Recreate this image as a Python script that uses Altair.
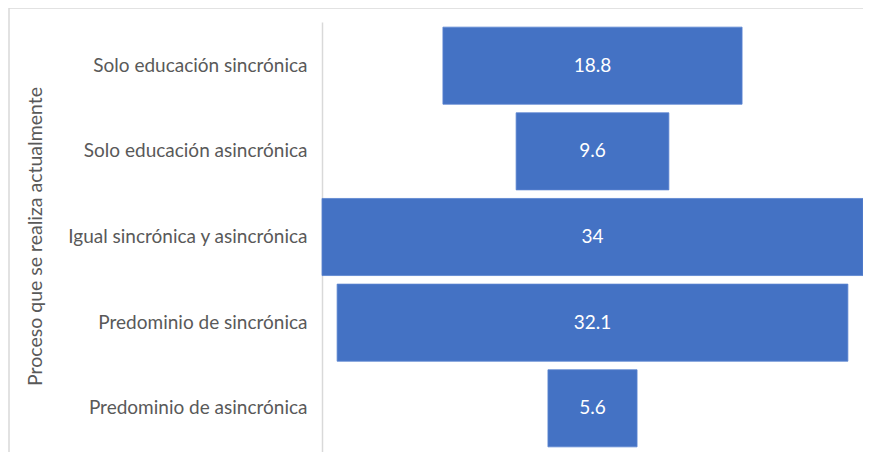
import altair as alt
import pandas as pd

categories = [
    "Solo educación sincrónica",
    "Solo educación asincrónica",
    "Igual sincrónica y asincrónica",
    "Predominio de sincrónica",
    "Predominio de asincrónica",
]
values = [18.8, 9.6, 34, 32.1, 5.6]

df = pd.DataFrame({"cat": categories, "val": values})
df["lo"] = -df["val"] / 2
df["hi"] = df["val"] / 2
df["mid"] = 0.0
df["label"] = [f"{v:g}" for v in values]

FONT = "Lato"

y_enc = alt.Y(
    "cat:N",
    sort=categories,
    scale=alt.Scale(paddingInner=0.1, paddingOuter=0.06),
    axis=alt.Axis(
        title="Proceso que se realiza actualmente",
        labelFont=FONT,
        labelFontSize=19,
        labelColor="#595959",
        labelPadding=15,
        labelLimit=0,
        ticks=False,
        domainColor="#d9d9d9",
        domainWidth=1.5,
        titleFont=FONT,
        titleFontSize=19.5,
        titleFontWeight="normal",
        titleColor="#595959",
        titleAngle=270,
        titleX=-287,
        titleY=214,
        titleAlign="center",
        titleBaseline="middle",
    ),
)

x_scale = alt.Scale(domain=[-17, 17])

bars = alt.Chart(df).mark_bar(color="#4472C4", stroke="#5b84d0", strokeWidth=0.8).encode(
    y=y_enc,
    x=alt.X("lo:Q", scale=x_scale, axis=None),
    x2="hi:Q",
)

text = alt.Chart(df).mark_text(color="white", font=FONT, fontSize=19).encode(
    y=alt.Y("cat:N", sort=categories),
    x=alt.X("mid:Q", scale=x_scale),
    text="label:N",
)

border = alt.Chart(alt.Data(values=[{}])).mark_rect(
    fill=None, stroke="#d9d9d9", strokeWidth=1.5
).encode(
    x=alt.value(-313), x2=alt.value(560), y=alt.value(-14), y2=alt.value(480)
)

chart = alt.layer(border, bars, text).properties(
    width=541,
    height=430,
    padding={"left": 314, "top": 14, "right": 0, "bottom": 0},
    autosize=alt.AutoSizeParams(type="none"),
).configure_view(stroke=None)

chart.save("out.html", embed_options={"renderer": "svg", "actions": False})
